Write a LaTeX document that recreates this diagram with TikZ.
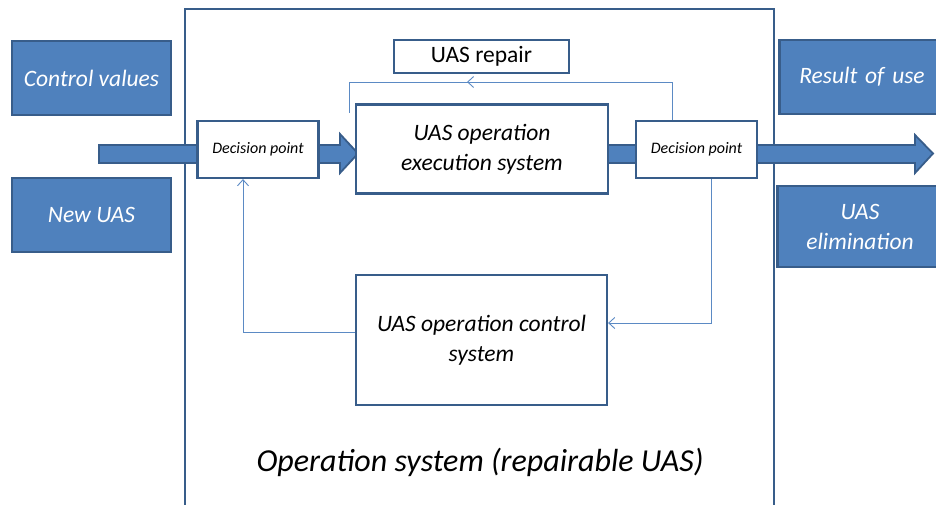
\documentclass[tikz,border=0pt]{standalone}
\usepackage{fontspec}
\setmainfont{Carlito}
\usetikzlibrary{arrows.meta,calc}
\definecolor{bfill}{HTML}{4F81BD}
\definecolor{bline}{HTML}{385D8A}
\definecolor{thinl}{HTML}{5B8AC4}
\begin{document}
\begin{tikzpicture}[x=1pt,y=-1pt,
  bluebox/.style={draw=bline,line width=2.2pt,fill=bfill,text=white,inner sep=0pt,
     font=\fontsize{23.5}{30}\selectfont\itshape,align=center},
  whitebox/.style={draw=bline,line width=2.2pt,fill=white,inner sep=0pt,align=center},
  fat/.style={draw=bline,line width=1.8pt,fill=bfill,line join=miter},
  thin/.style={draw=thinl,line width=0.9pt},
  tip/.style={-{Straight Barb[length=6pt,width=11pt]}}
]
\useasboundingbox (0,0) rectangle (936,504);
% outer frame
\draw[bline,line width=2.2pt] (185,520) -- (185,9) -- (774,9) -- (774,520);
% left blue boxes
\node[bluebox,minimum width=159pt,minimum height=74pt] (cv) at (91.5,78) {Control values};
\node[bluebox,minimum width=159pt,minimum height=74pt] (nu) at (91.5,215) {New UAS};
% right blue boxes
\node[bluebox,minimum width=165pt,minimum height=74pt,text width=150pt] (ru) at (862,77) {Result of use};
\node[bluebox,minimum width=165pt,minimum height=81pt,text width=150pt] (ue) at (860,226.5) {UAS\\elimination};
% fat arrows (drawn before boxes so that boxes sit on them)
\fill[fat] (99,145) -- (340,145) -- (340,134) -- (358,153.5) -- (340,173) -- (340,163) -- (99,163) -- cycle;
\fill[fat] (600,145) -- (915,145) -- (915,135) -- (933,153.5) -- (915,173) -- (915,163) -- (600,163) -- cycle;
% white boxes
\node[whitebox,minimum width=175pt,minimum height=33pt,font=\fontsize{23.5}{28}\selectfont] (rep) at (481.5,56.5) {UAS repair};
\node[whitebox,minimum width=252pt,minimum height=89pt,font=\fontsize{23.5}{30}\selectfont\itshape] (exe) at (482,149) {UAS operation\\execution system};
\node[whitebox,minimum width=251pt,minimum height=130pt,font=\fontsize{23.5}{30}\selectfont\itshape] (ctl) at (481.5,340) {UAS operation control\\system};
\node[whitebox,minimum width=121pt,minimum height=57pt,font=\fontsize{16}{18}\selectfont\itshape] (dp1) at (258,149.5) {Decision point};
\node[whitebox,minimum width=121pt,minimum height=57pt,font=\fontsize{16}{18}\selectfont\itshape] (dp2) at (696.5,149.5) {Decision point};
% thin connectors
\coordinate (r1) at (672,82);
\coordinate (r2) at (467,82);
\coordinate (r3) at (349,82);
\coordinate (r4) at (349,113);
\draw[thin] (dp2.north -| r1) -- (r1) -- (r3) -- (r4);
\draw[thin,tip] (r1) -- (r2);
\coordinate (d1) at (711,323);
\draw[thin,tip] (dp2.south -| d1) -- (d1) -- (ctl.east |- d1);
\coordinate (c1) at (243,332);
\draw[thin,tip] (ctl.west |- c1) -- (c1) -- (dp1.south -| c1);
% caption
\node[font=\fontsize{32}{36}\selectfont\itshape] (cap) at (480,462) {Operation system (repairable UAS)};
\end{tikzpicture}
\end{document}
